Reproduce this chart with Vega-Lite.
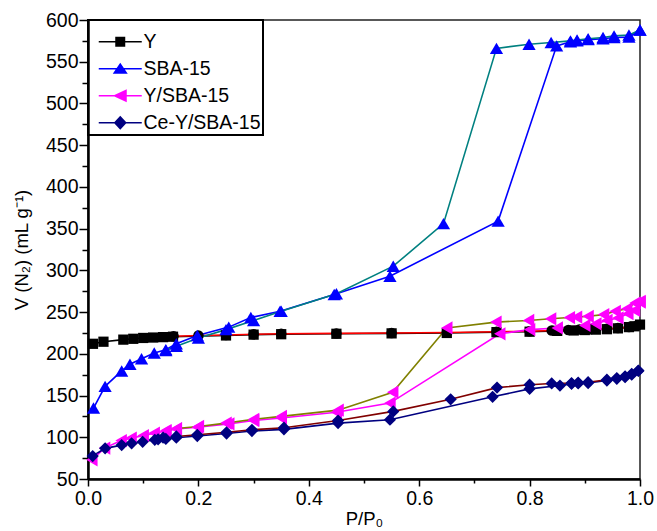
{
  "$schema": "https://vega.github.io/schema/vega-lite/v6.json",
  "width": 552,
  "height": 459,
  "autosize": "none",
  "padding": {"left": 88, "top": 20, "right": 17, "bottom": 52},
  "background": "white",
  "config": {
    "view": {"stroke": "#222", "strokeWidth": 1.5},
    "font": "Liberation Sans",
    "axis": {"grid": false, "domainColor": "black", "domainWidth": 2.5, "tickColor": "black", "tickWidth": 1.5, "labelFontSize": 19.5, "labelColor": "black", "titleFontSize": 18.5, "titleFontWeight": "normal", "titleColor": "black", "labelFont": "Liberation Sans", "titleFont": "Liberation Sans"},
    "legend": {"strokeWidth": 2}
  },
  "data": {"values": [
    {"x": 0.009, "v": 212, "series": "Y-ads", "sample": "Y"},
    {"x": 0.028, "v": 214.5, "series": "Y-ads", "sample": "Y"},
    {"x": 0.064, "v": 217, "series": "Y-ads", "sample": "Y"},
    {"x": 0.082, "v": 218, "series": "Y-ads", "sample": "Y"},
    {"x": 0.1, "v": 219, "series": "Y-ads", "sample": "Y"},
    {"x": 0.118, "v": 219.5, "series": "Y-ads", "sample": "Y"},
    {"x": 0.136, "v": 220, "series": "Y-ads", "sample": "Y"},
    {"x": 0.154, "v": 220.5, "series": "Y-ads", "sample": "Y"},
    {"x": 0.25, "v": 222, "series": "Y-ads", "sample": "Y"},
    {"x": 0.3, "v": 223, "series": "Y-ads", "sample": "Y"},
    {"x": 0.35, "v": 223.5, "series": "Y-ads", "sample": "Y"},
    {"x": 0.45, "v": 224, "series": "Y-ads", "sample": "Y"},
    {"x": 0.55, "v": 224.5, "series": "Y-ads", "sample": "Y"},
    {"x": 0.65, "v": 225, "series": "Y-ads", "sample": "Y"},
    {"x": 0.74, "v": 226, "series": "Y-ads", "sample": "Y"},
    {"x": 0.8, "v": 226.5, "series": "Y-ads", "sample": "Y"},
    {"x": 0.85, "v": 227.5, "series": "Y-ads", "sample": "Y"},
    {"x": 0.88, "v": 228, "series": "Y-ads", "sample": "Y"},
    {"x": 0.9, "v": 228.5, "series": "Y-ads", "sample": "Y"},
    {"x": 0.92, "v": 229, "series": "Y-ads", "sample": "Y"},
    {"x": 0.94, "v": 229.5, "series": "Y-ads", "sample": "Y"},
    {"x": 0.96, "v": 230.5, "series": "Y-ads", "sample": "Y"},
    {"x": 0.98, "v": 232, "series": "Y-ads", "sample": "Y"},
    {"x": 0.99, "v": 233, "series": "Y-ads", "sample": "Y"},
    {"x": 1.0, "v": 235, "series": "Y-ads", "sample": "Y"},
    {"x": 0.155, "v": 221, "series": "Y-des", "sample": "Y"},
    {"x": 0.2, "v": 222, "series": "Y-des", "sample": "Y"},
    {"x": 0.25, "v": 222.5, "series": "Y-des", "sample": "Y"},
    {"x": 0.3, "v": 223.5, "series": "Y-des", "sample": "Y"},
    {"x": 0.35, "v": 224, "series": "Y-des", "sample": "Y"},
    {"x": 0.45, "v": 224.5, "series": "Y-des", "sample": "Y"},
    {"x": 0.55, "v": 225, "series": "Y-des", "sample": "Y"},
    {"x": 0.65, "v": 225.5, "series": "Y-des", "sample": "Y"},
    {"x": 0.74, "v": 226.5, "series": "Y-des", "sample": "Y"},
    {"x": 0.8, "v": 227, "series": "Y-des", "sample": "Y"},
    {"x": 0.84, "v": 228, "series": "Y-des", "sample": "Y"},
    {"x": 0.87, "v": 228.5, "series": "Y-des", "sample": "Y"},
    {"x": 0.89, "v": 229, "series": "Y-des", "sample": "Y"},
    {"x": 0.91, "v": 229.5, "series": "Y-des", "sample": "Y"},
    {"x": 0.94, "v": 230, "series": "Y-des", "sample": "Y"},
    {"x": 0.96, "v": 231, "series": "Y-des", "sample": "Y"},
    {"x": 0.98, "v": 232, "series": "Y-des", "sample": "Y"},
    {"x": 0.995, "v": 234, "series": "Y-des", "sample": "Y"},
    {"x": 0.01, "v": 135, "series": "SBA-ads", "sample": "SBA-15"},
    {"x": 0.031, "v": 161, "series": "SBA-ads", "sample": "SBA-15"},
    {"x": 0.061, "v": 179.5, "series": "SBA-ads", "sample": "SBA-15"},
    {"x": 0.076, "v": 187.5, "series": "SBA-ads", "sample": "SBA-15"},
    {"x": 0.097, "v": 194, "series": "SBA-ads", "sample": "SBA-15"},
    {"x": 0.12, "v": 201, "series": "SBA-ads", "sample": "SBA-15"},
    {"x": 0.141, "v": 205, "series": "SBA-ads", "sample": "SBA-15"},
    {"x": 0.16, "v": 212, "series": "SBA-ads", "sample": "SBA-15"},
    {"x": 0.198, "v": 222, "series": "SBA-ads", "sample": "SBA-15"},
    {"x": 0.255, "v": 232, "series": "SBA-ads", "sample": "SBA-15"},
    {"x": 0.295, "v": 243.5, "series": "SBA-ads", "sample": "SBA-15"},
    {"x": 0.348, "v": 251, "series": "SBA-ads", "sample": "SBA-15"},
    {"x": 0.446, "v": 271, "series": "SBA-ads", "sample": "SBA-15"},
    {"x": 0.547, "v": 293, "series": "SBA-ads", "sample": "SBA-15"},
    {"x": 0.743, "v": 359, "series": "SBA-ads", "sample": "SBA-15"},
    {"x": 0.849, "v": 569, "series": "SBA-ads", "sample": "SBA-15"},
    {"x": 0.874, "v": 574, "series": "SBA-ads", "sample": "SBA-15"},
    {"x": 0.886, "v": 575, "series": "SBA-ads", "sample": "SBA-15"},
    {"x": 0.906, "v": 576.5, "series": "SBA-ads", "sample": "SBA-15"},
    {"x": 0.933, "v": 577.5, "series": "SBA-ads", "sample": "SBA-15"},
    {"x": 0.953, "v": 579, "series": "SBA-ads", "sample": "SBA-15"},
    {"x": 0.98, "v": 579.5, "series": "SBA-ads", "sample": "SBA-15"},
    {"x": 1.0, "v": 588, "series": "SBA-ads", "sample": "SBA-15"},
    {"x": 0.141, "v": 204, "series": "SBA-des", "sample": "SBA-15"},
    {"x": 0.16, "v": 209, "series": "SBA-des", "sample": "SBA-15"},
    {"x": 0.2, "v": 219, "series": "SBA-des", "sample": "SBA-15"},
    {"x": 0.25, "v": 229, "series": "SBA-des", "sample": "SBA-15"},
    {"x": 0.3, "v": 240, "series": "SBA-des", "sample": "SBA-15"},
    {"x": 0.35, "v": 251, "series": "SBA-des", "sample": "SBA-15"},
    {"x": 0.45, "v": 272, "series": "SBA-des", "sample": "SBA-15"},
    {"x": 0.553, "v": 305, "series": "SBA-des", "sample": "SBA-15"},
    {"x": 0.644, "v": 356, "series": "SBA-des", "sample": "SBA-15"},
    {"x": 0.74, "v": 566, "series": "SBA-des", "sample": "SBA-15"},
    {"x": 0.799, "v": 571, "series": "SBA-des", "sample": "SBA-15"},
    {"x": 0.839, "v": 573, "series": "SBA-des", "sample": "SBA-15"},
    {"x": 0.874, "v": 575, "series": "SBA-des", "sample": "SBA-15"},
    {"x": 0.886, "v": 576, "series": "SBA-des", "sample": "SBA-15"},
    {"x": 0.906, "v": 577.5, "series": "SBA-des", "sample": "SBA-15"},
    {"x": 0.933, "v": 579, "series": "SBA-des", "sample": "SBA-15"},
    {"x": 0.953, "v": 581, "series": "SBA-des", "sample": "SBA-15"},
    {"x": 0.98, "v": 582, "series": "SBA-des", "sample": "SBA-15"},
    {"x": 1.0, "v": 588, "series": "SBA-des", "sample": "SBA-15"},
    {"x": 0.007, "v": 73, "series": "YSBA-ads", "sample": "Y/SBA-15"},
    {"x": 0.03, "v": 87, "series": "YSBA-ads", "sample": "Y/SBA-15"},
    {"x": 0.06, "v": 96, "series": "YSBA-ads", "sample": "Y/SBA-15"},
    {"x": 0.078, "v": 99, "series": "YSBA-ads", "sample": "Y/SBA-15"},
    {"x": 0.1, "v": 102, "series": "YSBA-ads", "sample": "Y/SBA-15"},
    {"x": 0.12, "v": 105, "series": "YSBA-ads", "sample": "Y/SBA-15"},
    {"x": 0.141, "v": 107.5, "series": "YSBA-ads", "sample": "Y/SBA-15"},
    {"x": 0.16, "v": 110, "series": "YSBA-ads", "sample": "Y/SBA-15"},
    {"x": 0.198, "v": 112, "series": "YSBA-ads", "sample": "Y/SBA-15"},
    {"x": 0.255, "v": 116, "series": "YSBA-ads", "sample": "Y/SBA-15"},
    {"x": 0.3, "v": 120, "series": "YSBA-ads", "sample": "Y/SBA-15"},
    {"x": 0.35, "v": 123, "series": "YSBA-ads", "sample": "Y/SBA-15"},
    {"x": 0.45, "v": 130, "series": "YSBA-ads", "sample": "Y/SBA-15"},
    {"x": 0.547, "v": 141, "series": "YSBA-ads", "sample": "Y/SBA-15"},
    {"x": 0.746, "v": 224, "series": "YSBA-ads", "sample": "Y/SBA-15"},
    {"x": 0.8, "v": 229, "series": "YSBA-ads", "sample": "Y/SBA-15"},
    {"x": 0.85, "v": 231, "series": "YSBA-ads", "sample": "Y/SBA-15"},
    {"x": 0.9, "v": 234, "series": "YSBA-ads", "sample": "Y/SBA-15"},
    {"x": 0.92, "v": 236, "series": "YSBA-ads", "sample": "Y/SBA-15"},
    {"x": 0.94, "v": 240, "series": "YSBA-ads", "sample": "Y/SBA-15"},
    {"x": 0.96, "v": 243, "series": "YSBA-ads", "sample": "Y/SBA-15"},
    {"x": 0.978, "v": 248, "series": "YSBA-ads", "sample": "Y/SBA-15"},
    {"x": 0.99, "v": 252, "series": "YSBA-ads", "sample": "Y/SBA-15"},
    {"x": 1.0, "v": 262, "series": "YSBA-ads", "sample": "Y/SBA-15"},
    {"x": 0.141, "v": 108, "series": "YSBA-des", "sample": "Y/SBA-15"},
    {"x": 0.16, "v": 110.5, "series": "YSBA-des", "sample": "Y/SBA-15"},
    {"x": 0.2, "v": 113, "series": "YSBA-des", "sample": "Y/SBA-15"},
    {"x": 0.25, "v": 117, "series": "YSBA-des", "sample": "Y/SBA-15"},
    {"x": 0.3, "v": 121.5, "series": "YSBA-des", "sample": "Y/SBA-15"},
    {"x": 0.35, "v": 125, "series": "YSBA-des", "sample": "Y/SBA-15"},
    {"x": 0.453, "v": 132.5, "series": "YSBA-des", "sample": "Y/SBA-15"},
    {"x": 0.552, "v": 154, "series": "YSBA-des", "sample": "Y/SBA-15"},
    {"x": 0.65, "v": 231, "series": "YSBA-des", "sample": "Y/SBA-15"},
    {"x": 0.739, "v": 238, "series": "YSBA-des", "sample": "Y/SBA-15"},
    {"x": 0.798, "v": 240, "series": "YSBA-des", "sample": "Y/SBA-15"},
    {"x": 0.838, "v": 242, "series": "YSBA-des", "sample": "Y/SBA-15"},
    {"x": 0.872, "v": 243.5, "series": "YSBA-des", "sample": "Y/SBA-15"},
    {"x": 0.885, "v": 244, "series": "YSBA-des", "sample": "Y/SBA-15"},
    {"x": 0.906, "v": 245, "series": "YSBA-des", "sample": "Y/SBA-15"},
    {"x": 0.934, "v": 247, "series": "YSBA-des", "sample": "Y/SBA-15"},
    {"x": 0.955, "v": 251, "series": "YSBA-des", "sample": "Y/SBA-15"},
    {"x": 0.976, "v": 254, "series": "YSBA-des", "sample": "Y/SBA-15"},
    {"x": 0.991, "v": 261, "series": "YSBA-des", "sample": "Y/SBA-15"},
    {"x": 1.0, "v": 263, "series": "YSBA-des", "sample": "Y/SBA-15"},
    {"x": 0.0085, "v": 77.5, "series": "Ce-ads", "sample": "Ce-Y/SBA-15"},
    {"x": 0.031, "v": 86.7, "series": "Ce-ads", "sample": "Ce-Y/SBA-15"},
    {"x": 0.061, "v": 90.6, "series": "Ce-ads", "sample": "Ce-Y/SBA-15"},
    {"x": 0.079, "v": 92.7, "series": "Ce-ads", "sample": "Ce-Y/SBA-15"},
    {"x": 0.099, "v": 94.6, "series": "Ce-ads", "sample": "Ce-Y/SBA-15"},
    {"x": 0.121, "v": 97, "series": "Ce-ads", "sample": "Ce-Y/SBA-15"},
    {"x": 0.127, "v": 97.5, "series": "Ce-ads", "sample": "Ce-Y/SBA-15"},
    {"x": 0.141, "v": 98, "series": "Ce-ads", "sample": "Ce-Y/SBA-15"},
    {"x": 0.16, "v": 99.5, "series": "Ce-ads", "sample": "Ce-Y/SBA-15"},
    {"x": 0.198, "v": 101.5, "series": "Ce-ads", "sample": "Ce-Y/SBA-15"},
    {"x": 0.251, "v": 104.5, "series": "Ce-ads", "sample": "Ce-Y/SBA-15"},
    {"x": 0.297, "v": 107.5, "series": "Ce-ads", "sample": "Ce-Y/SBA-15"},
    {"x": 0.355, "v": 109.5, "series": "Ce-ads", "sample": "Ce-Y/SBA-15"},
    {"x": 0.453, "v": 117, "series": "Ce-ads", "sample": "Ce-Y/SBA-15"},
    {"x": 0.547, "v": 121, "series": "Ce-ads", "sample": "Ce-Y/SBA-15"},
    {"x": 0.733, "v": 148.5, "series": "Ce-ads", "sample": "Ce-Y/SBA-15"},
    {"x": 0.8, "v": 158, "series": "Ce-ads", "sample": "Ce-Y/SBA-15"},
    {"x": 0.855, "v": 162, "series": "Ce-ads", "sample": "Ce-Y/SBA-15"},
    {"x": 0.876, "v": 164, "series": "Ce-ads", "sample": "Ce-Y/SBA-15"},
    {"x": 0.888, "v": 164.5, "series": "Ce-ads", "sample": "Ce-Y/SBA-15"},
    {"x": 0.906, "v": 165, "series": "Ce-ads", "sample": "Ce-Y/SBA-15"},
    {"x": 0.94, "v": 168, "series": "Ce-ads", "sample": "Ce-Y/SBA-15"},
    {"x": 0.958, "v": 170, "series": "Ce-ads", "sample": "Ce-Y/SBA-15"},
    {"x": 0.973, "v": 172, "series": "Ce-ads", "sample": "Ce-Y/SBA-15"},
    {"x": 0.985, "v": 175, "series": "Ce-ads", "sample": "Ce-Y/SBA-15"},
    {"x": 0.997, "v": 179.5, "series": "Ce-ads", "sample": "Ce-Y/SBA-15"},
    {"x": 0.136, "v": 99.5, "series": "Ce-des", "sample": "Ce-Y/SBA-15"},
    {"x": 0.16, "v": 101, "series": "Ce-des", "sample": "Ce-Y/SBA-15"},
    {"x": 0.198, "v": 103, "series": "Ce-des", "sample": "Ce-Y/SBA-15"},
    {"x": 0.251, "v": 106, "series": "Ce-des", "sample": "Ce-Y/SBA-15"},
    {"x": 0.297, "v": 109, "series": "Ce-des", "sample": "Ce-Y/SBA-15"},
    {"x": 0.355, "v": 111.5, "series": "Ce-des", "sample": "Ce-Y/SBA-15"},
    {"x": 0.453, "v": 120, "series": "Ce-des", "sample": "Ce-Y/SBA-15"},
    {"x": 0.553, "v": 131, "series": "Ce-des", "sample": "Ce-Y/SBA-15"},
    {"x": 0.657, "v": 145.5, "series": "Ce-des", "sample": "Ce-Y/SBA-15"},
    {"x": 0.741, "v": 159.5, "series": "Ce-des", "sample": "Ce-Y/SBA-15"},
    {"x": 0.8, "v": 163, "series": "Ce-des", "sample": "Ce-Y/SBA-15"},
    {"x": 0.84, "v": 164.5, "series": "Ce-des", "sample": "Ce-Y/SBA-15"},
    {"x": 0.876, "v": 165, "series": "Ce-des", "sample": "Ce-Y/SBA-15"},
    {"x": 0.888, "v": 165.5, "series": "Ce-des", "sample": "Ce-Y/SBA-15"},
    {"x": 0.906, "v": 166, "series": "Ce-des", "sample": "Ce-Y/SBA-15"},
    {"x": 0.94, "v": 169, "series": "Ce-des", "sample": "Ce-Y/SBA-15"},
    {"x": 0.958, "v": 171, "series": "Ce-des", "sample": "Ce-Y/SBA-15"},
    {"x": 0.973, "v": 173, "series": "Ce-des", "sample": "Ce-Y/SBA-15"},
    {"x": 0.985, "v": 176, "series": "Ce-des", "sample": "Ce-Y/SBA-15"},
    {"x": 0.997, "v": 180, "series": "Ce-des", "sample": "Ce-Y/SBA-15"}
  ]},
  "encoding": {
    "x": {"field": "x", "type": "quantitative",
      "scale": {"domain": [0, 1], "nice": false, "zero": false},
      "axis": {"title": "P/P₀", "values": [0, 0.1, 0.2, 0.3, 0.4, 0.5, 0.6, 0.7, 0.8, 0.9, 1.0],
        "labelExpr": "round(datum.value*10) % 2 === 0 ? format(datum.value, '.1f') : ''",
        "tickSize": {"condition": {"test": "round(datum.value*10) % 2 === 0", "value": 7}, "value": 4},
        "labelPadding": 3, "titlePadding": 2, "labelFlush": false, "labelOverlap": false}},
    "y": {"field": "v", "type": "quantitative",
      "scale": {"domain": [50, 600], "nice": false, "zero": false},
      "axis": {"title": "V (N₂) (mL g⁻¹)", "values": [50, 75, 100, 125, 150, 175, 200, 225, 250, 275, 300, 325, 350, 375, 400, 425, 450, 475, 500, 525, 550, 575, 600],
        "labelExpr": "datum.value % 50 === 0 ? datum.label : ''",
        "tickSize": {"condition": {"test": "datum.value % 50 === 0", "value": 9}, "value": 6},
        "labelPadding": 1, "titlePadding": 14, "labelFlush": false, "labelOverlap": false}}
  },
  "layer": [
    {
      "mark": {"type": "line", "strokeWidth": 1.6},
      "encoding": {
        "stroke": {"field": "series", "type": "nominal", "legend": null,
          "scale": {"domain": ["Y-ads", "Y-des", "SBA-ads", "SBA-des", "YSBA-ads", "YSBA-des", "Ce-ads", "Ce-des"],
            "range": ["#000000", "#ff0000", "#0000ff", "#008080", "#ff00ff", "#808000", "#000080", "#800000"]}}
      }
    },
    {
      "mark": {"type": "point", "filled": true, "opacity": 1, "strokeWidth": 0},
      "encoding": {
        "shape": {"field": "series", "type": "nominal", "legend": null,
          "scale": {"domain": ["Y-ads", "Y-des", "SBA-ads", "SBA-des", "YSBA-ads", "YSBA-des", "Ce-ads", "Ce-des"],
            "range": ["square", "circle", "triangle-up", "triangle-up", "triangle-left", "triangle-left", "diamond", "diamond"]}},
        "size": {"field": "series", "type": "nominal", "legend": null,
          "scale": {"type": "ordinal", "domain": ["Y-ads", "Y-des", "SBA-ads", "SBA-des", "YSBA-ads", "YSBA-des", "Ce-ads", "Ce-des"],
            "range": [105, 110, 175, 175, 175, 175, 150, 150]}},
        "fill": {"field": "sample", "type": "nominal", "legend": null,
          "scale": {"domain": ["Y", "SBA-15", "Y/SBA-15", "Ce-Y/SBA-15"], "range": ["#000000", "#0000ff", "#ff00ff", "#000080"]}}
      }
    },
    {
      "transform": [{"filter": "datum.x > 5"}],
      "mark": {"type": "point", "filled": true, "opacity": 1, "size": 100, "strokeWidth": 0},
      "encoding": {
        "shape": {"field": "sample", "type": "nominal",
          "scale": {"domain": ["Y", "SBA-15", "Y/SBA-15", "Ce-Y/SBA-15"],
            "range": [
              "M-0.2,-0.15H8.4V0.15H-0.2Z M3.1,-1H5.1V1H3.1Z",
              "M-0.2,-0.15H8.4V0.15H-0.2Z M4.1,-1.2L5.6,1H2.6Z",
              "M-0.2,-0.15H8.4V0.15H-0.2Z M2.6,0L5.4,-1.3V1.3Z",
              "M-0.2,-0.15H8.4V0.15H-0.2Z M4.1,-1.4L5.4,0L4.1,1.4L2.8,0Z"]},
          "legend": {"orient": "none", "legendX": 0, "legendY": 0, "title": " ", "titleFontSize": 8, "titlePadding": 2, "padding": 2, "strokeColor": "black",
            "symbolSize": 100, "labelFontSize": 19.5, "labelColor": "black", "labelOffset": 34, "rowPadding": 6, "symbolStrokeWidth": 0,
            "labelExpr": "datum.label + '\u00a0\u00a0\u00a0'"}},
        "fill": {"field": "sample", "type": "nominal",
          "scale": {"domain": ["Y", "SBA-15", "Y/SBA-15", "Ce-Y/SBA-15"], "range": ["#000000", "#0000ff", "#ff00ff", "#000080"]},
          "legend": {"orient": "none", "legendX": 0, "legendY": 0, "title": " ", "titleFontSize": 8, "titlePadding": 2, "padding": 2, "strokeColor": "black",
            "symbolSize": 100, "labelFontSize": 19.5, "labelColor": "black", "labelOffset": 34, "rowPadding": 6, "symbolStrokeWidth": 0,
            "labelExpr": "datum.label + '\u00a0\u00a0\u00a0'"}}
      }
    }
  ],
  "resolve": {"scale": {"shape": "independent", "fill": "independent"}}
}
